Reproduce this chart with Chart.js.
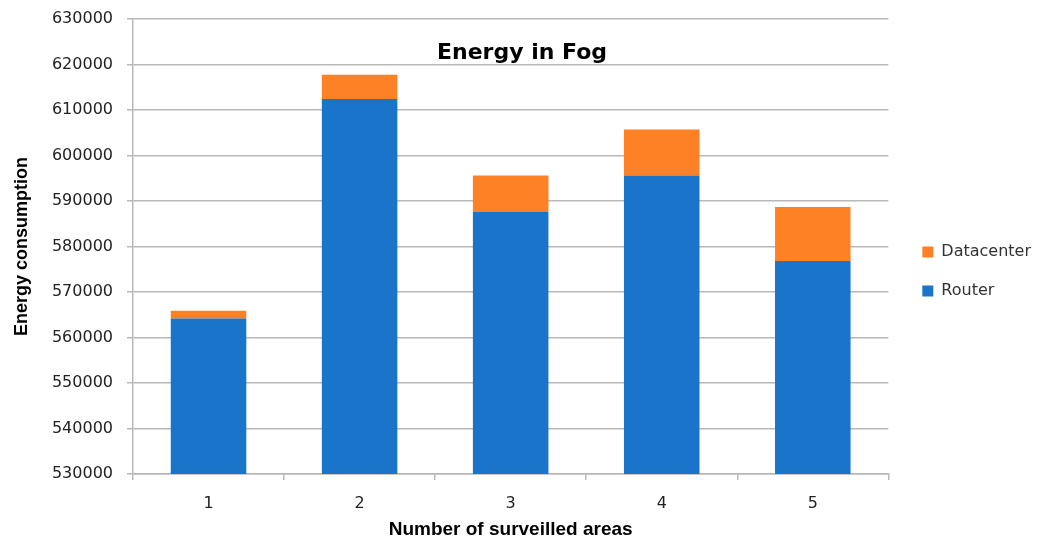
<!DOCTYPE html>
<html>
<head>
<meta charset="utf-8">
<script src="https://cdn.jsdelivr.net/npm/chart.js@4/dist/chart.umd.min.js"></script>
<style>
  html, body { margin: 0; padding: 0; background: #fff; }
  #wrap { width: 1040px; height: 543px; }
</style>
</head>
<body>
<div id="wrap"><canvas id="fog"></canvas></div>
<script>
// values
const areas = ['1', '2', '3', '4', '5'];
const routerEnergy = [564200, 612400, 587600, 595600, 576800];
const datacenterEnergy = [1700, 5350, 8000, 10100, 11900];
const yTicks = [530000, 540000, 550000, 560000, 570000, 580000, 590000, 600000, 610000, 620000, 630000];

const gridGrey = '#b8b8b8';

Chart.defaults.font.family = 'DejaVu Sans';
Chart.defaults.font.size = 16;

// title sits inside the plot area, so draw it after the chart
const fogTitle = {
    id: 'fogTitle',
    afterDraw(chart) {
        const ctx = chart.ctx;
        ctx.save();
        ctx.font = 'bold 22px "DejaVu Sans"';
        ctx.fillStyle = '#000';
        ctx.textAlign = 'center';
        ctx.textBaseline = 'alphabetic';
        ctx.fillText('Energy in Fog', 522, 59);
        ctx.restore();
    }
};

// nudge the legend right, away from the plot edge
const legendNudge = {
    id: 'legendNudge',
    afterLayout(chart) {
        const lg = chart.legend;
        lg.left += 11; lg.right += 11;
    }
};

new Chart(document.getElementById('fog'), {
    type: 'bar',
    data: {
        labels: areas,
        datasets: [
            { label: 'Router', data: routerEnergy, backgroundColor: '#1a74c9' },
            { label: 'Datacenter', data: datacenterEnergy, backgroundColor: '#ff8126' }
        ]
    },
    options: {
        responsive: true,
        maintainAspectRatio: false,
        animation: false,
        barPercentage: 0.5,
        categoryPercentage: 1.0,
        layout: { padding: { top: 0, right: 10, bottom: 0, left: 0 } },
        plugins: {
            title: { display: false },
            tooltip: { enabled: false },
            legend: {
                position: 'right',
                reverse: true,
                labels: {
                    boxWidth: 11,
                    boxHeight: 11,
                    padding: 23,
                    color: '#333',
                    font: { family: 'DejaVu Sans', size: 16 }
                }
            }
        },
        scales: {
            x: {
                stacked: true,
                grid: {
                    offset: true,
                    color: c => c.index === areas.length ? gridGrey : 'rgba(0,0,0,0)',
                    tickColor: gridGrey,
                    tickLength: 6,
                    lineWidth: 1.5
                },
                border: { color: gridGrey, width: 1.5 },
                ticks: {
                    color: '#222',
                    padding: 14,
                    font: { family: 'DejaVu Sans', size: 16 }
                },
                title: {
                    display: true,
                    text: 'Number of surveilled areas',
                    color: '#000',
                    font: { family: 'Liberation Sans', size: 19, weight: 'bold' },
                    padding: { top: 4, bottom: 2 }
                },
                afterFit: s => { s.height = 69; }
            },
            y: {
                stacked: true,
                min: yTicks[0],
                max: yTicks[yTicks.length - 1],
                grid: { color: gridGrey, tickLength: 6, lineWidth: 1.5 },
                border: { color: gridGrey, width: 1.5 },
                afterBuildTicks: s => { s.ticks = yTicks.map(v => ({ value: v })); },
                ticks: {
                    color: '#222',
                    padding: 14,
                    font: { family: 'DejaVu Sans', size: 16 },
                    callback: v => String(v)
                },
                title: {
                    display: true,
                    text: 'Energy consumption',
                    color: '#000',
                    font: { family: 'Liberation Sans', size: 18, weight: 'bold' },
                    padding: { top: 11, bottom: 4 }
                },
                afterFit: s => { s.width = 133; s.paddingTop = 19; }
            }
        }
    },
    plugins: [fogTitle, legendNudge]
});
</script>
</body>
</html>
